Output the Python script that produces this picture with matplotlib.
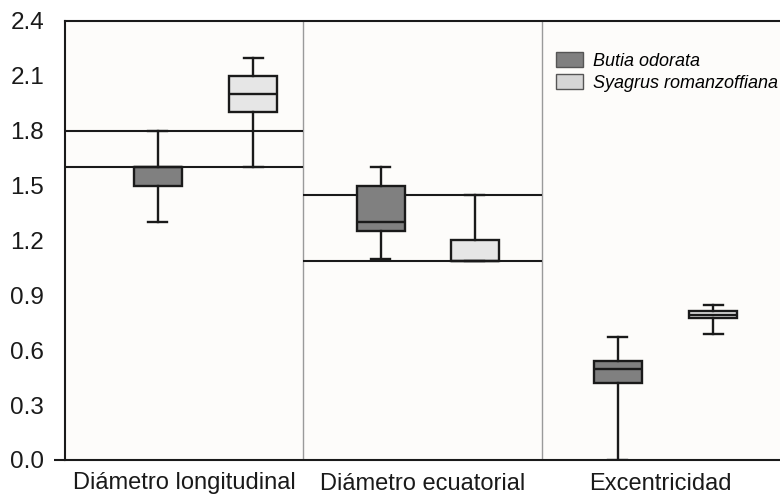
import matplotlib
matplotlib.use("Agg")
import matplotlib.pyplot as plt
from matplotlib.patches import Patch

plt.rcParams['font.family'] = ['Liberation Sans', 'DejaVu Sans']

# Variables and species
variables = ["Diámetro longitudinal", "Diámetro ecuatorial", "Excentricidad"]
species = ["Butia odorata", "Syagrus romanzoffiana"]

# Box summaries per variable: (whislo, q1, med, q3, whishi)
butia = [(1.30, 1.50, 1.60, 1.60, 1.80),
         (1.10, 1.25, 1.30, 1.50, 1.60),
         (0.00, 0.42, 0.50, 0.54, 0.67)]
syagrus = [(1.60, 1.90, 2.00, 2.10, 2.20),
           (1.09, 1.09, 1.09, 1.20, 1.45),
           (0.69, 0.775, 0.795, 0.815, 0.845)]

# Horizontal reference lines per panel
ref_lines = [[1.8, 1.6], [1.45, 1.09], []]

# box centers inside each panel (fraction of panel width)
offsets = [(0.39, 0.79), (0.325, 0.72), (0.32, 0.72)]
colors = ["#808080", "#e6e6e6"]
legend_colors = ["#808080", "#d6d6d6"]


def stats(vals, label):
    lo, q1, med, q3, hi = vals
    return dict(whislo=lo, q1=q1, med=med, q3=q3, whishi=hi, fliers=[], label=label)


fig = plt.figure(figsize=(7.8, 4.97), dpi=100)
fig.patch.set_facecolor("white")
ax = fig.add_axes([65 / 780, 37 / 497, 1 - 65 / 780, 439 / 497])
ax.set_facecolor("#fdfcfa")

for i, var in enumerate(variables):
    for j, (data, col) in enumerate(zip([butia, syagrus], colors)):
        ax.bxp([stats(data[i], var)], positions=[i + offsets[i][j]], widths=0.2,
               patch_artist=True, showfliers=False,
               boxprops=dict(facecolor=col, edgecolor="#1a1a1a", linewidth=1.7),
               medianprops=dict(color="#1a1a1a", linewidth=1.7),
               whiskerprops=dict(color="#1a1a1a", linewidth=1.7),
               capprops=dict(color="#1a1a1a", linewidth=1.7),
               capwidths=0.08, zorder=3)
    for y in ref_lines[i]:
        ax.hlines(y, i, i + 1, color="#1a1a1a", linewidth=1.5, zorder=2)

# panel separators
for x in [1, 2]:
    ax.axvline(x, color="#9a9a9a", linewidth=1.0, zorder=1)

ax.set_xlim(0, 3)
ax.set_ylim(0, 2.4)
ax.set_yticks([0.0, 0.3, 0.6, 0.9, 1.2, 1.5, 1.8, 2.1, 2.4])
ax.set_yticklabels(["0.0", "0.3", "0.6", "0.9", "1.2", "1.5", "1.8", "2.1", "2.4"])
ax.set_xticks([0.5, 1.5, 2.5])
ax.set_xticklabels(variables)
ax.tick_params(axis="x", length=0, labelsize=17, pad=9, colors="#1a1a1a")
ax.tick_params(axis="y", length=8, width=1.5, labelsize=17.5, pad=7, colors="#1a1a1a")
# only the zero tick has a visible mark
for k, t in enumerate(ax.yaxis.get_major_ticks()):
    if k > 0:
        t.tick1line.set_visible(False)

for side in ["left", "bottom", "top"]:
    ax.spines[side].set_linewidth(1.5)
    ax.spines[side].set_color("#1a1a1a")
ax.spines["right"].set_visible(False)

handles = [Patch(facecolor=c, edgecolor="#555555", linewidth=1.0, label=s)
           for c, s in zip(legend_colors, species)]
leg = ax.legend(handles=handles, loc="upper left", bbox_to_anchor=(0.676, 0.945),
                frameon=False, borderaxespad=0,
                prop=dict(style="italic", size=13), handlelength=1.5,
                handleheight=0.85, handletextpad=0.6, labelspacing=0.25)

fig.savefig("out.png", dpi=100)
